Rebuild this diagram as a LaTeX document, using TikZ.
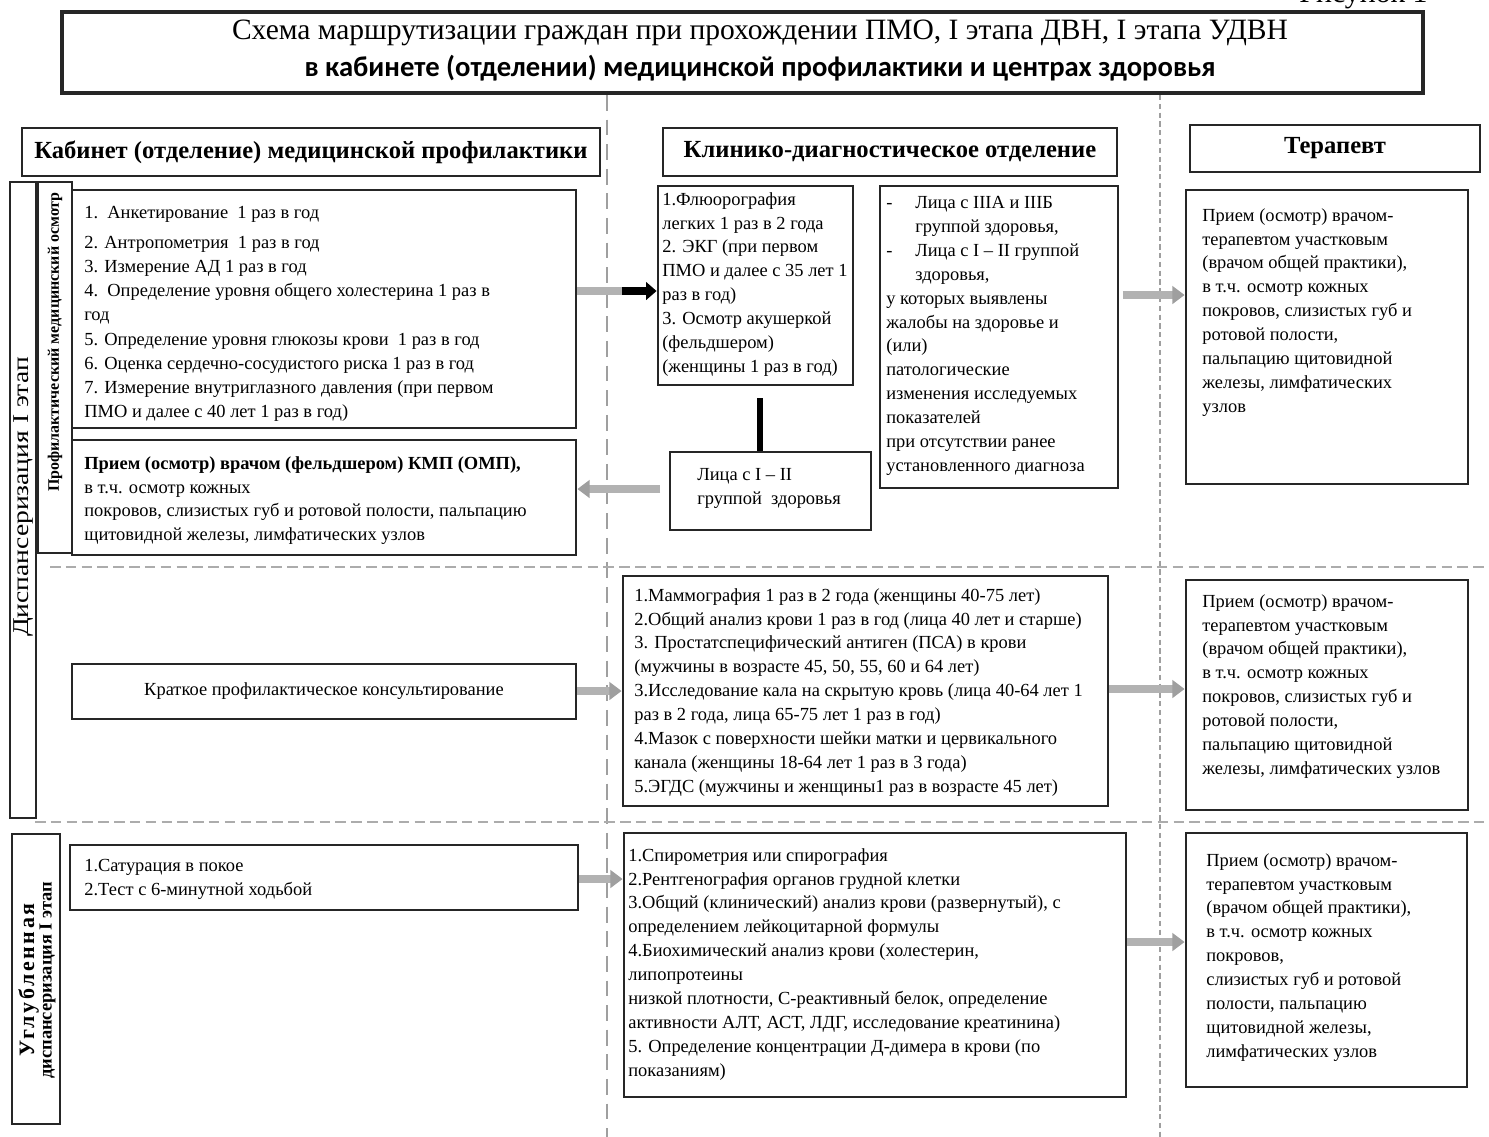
\documentclass[tikz,border=0pt]{standalone}
\usepackage{fontspec}
\setmainfont{Liberation Serif}
\newfontfamily\titlesans{Carlito}
\usetikzlibrary{arrows.meta,fit}
\begin{document}
\begin{tikzpicture}[x=0.02cm,y=-0.02cm,
  box/.style={draw=black!85,line width=1.6pt,inner sep=0pt},
  txt/.style={anchor=north west,inner sep=0pt,align=left,font=\fontsize{10.5}{13.6}\selectfont},
  hdr/.style={inner sep=0pt,font=\bfseries\fontsize{14}{16}\selectfont},
  garrow/.style={draw=gray!60,line width=4.2pt,-{Triangle[length=7pt,width=10pt,color=gray!75]}},
  barrow/.style={draw=black,line width=4.2pt,-{Triangle[length=6pt,width=10pt]}},
  vdash/.style={draw=gray!75,line width=1.1pt,dash pattern=on 9pt off 5pt},
  vdash2/.style={draw=gray!75,line width=1.6pt,dash pattern=on 3pt off 2pt},
  hdash/.style={draw=gray!65,line width=1.6pt,dash pattern=on 6pt off 3pt}]
\useasboundingbox (0,0) rectangle (1489,1137);
\fill[white] (0,0) rectangle (1489,1137);

% figure label (cut at the top edge, as in the reference)
\node[font=\fontsize{17}{19}\selectfont,anchor=south east,inner sep=0pt] (fig) at (1428,9) {Рисунок 1};

% title
\node[box,line width=2.4pt,fit={(62,12)(1423,93)}] (title) {};
\node[inner sep=0pt,font=\fontsize{16.8}{20}\selectfont] (t1) at (760,33) {Схема маршрутизации граждан при прохождении ПМО, I этапа ДВН, I этапа УДВН};
\node[inner sep=0pt,font=\titlesans\bfseries\fontsize{16.3}{19}\selectfont] (t2) at (760,68) {в кабинете (отделении) медицинской профилактики и центрах здоровья};

% separators
\coordinate (va) at (607,95);
\coordinate (vb) at (607,1137);
\coordinate (vc) at (1160,95);
\coordinate (vd) at (1160,1137);
\draw[vdash] (va) -- (vb);
\draw[vdash2] (vc) -- (vd);
\coordinate (ha) at (50,567);
\coordinate (hb) at (1489,567);
\coordinate (hc) at (35,822);
\coordinate (hd) at (1489,822);
\draw[hdash] (ha) -- (hb);
\draw[hdash] (hc) -- (hd);

% headers
\node[box,fit={(22,128)(600,176)}] (h1) {};
\node[hdr] (h1t) at (h1.center) {Кабинет (отделение) медицинской профилактики};
\node[box,fit={(663,128)(1117,176)}] (h2) {};
\node[hdr] (h2t) at (h2.center) {Клинико-диагностическое отделение};
\node[box,fit={(1190,125)(1480,172)}] (h3) {};
\node[hdr] (h3t) at (h3.center) {Терапевт};

% left vertical labels
\node[box,fill=white,fit={(10,182)(36,818)}] (vdisp) {};
\node[inner sep=0pt,rotate=90,font=\fontsize{14}{16}\selectfont] (vdispt) at (24,497) {\scalebox{1.12}[0.92]{Диспансеризация I этап}};
\node[box,fill=white,fit={(38,182)(72,553)}] (vpmo) {};
\node[inner sep=0pt,rotate=90,font=\bfseries\fontsize{9.1}{12}\selectfont] (vpmot) at (55,342) {Профилактический медицинский осмотр};
\node[box,fill=white,fit={(12,834)(60,1124)}] (vudvn) {};
\node[inner sep=0pt,rotate=90,align=center,font=\bfseries\fontsize{10.5}{11}\selectfont] (vudvnt) at (37,980) {{\fontsize{12.5}{12}\selectfont\addfontfeature{LetterSpace=12}Углубленная}\\[-1pt]диспансеризация I этап};

% row 1
\node[box,fit={(72,190)(576,428)}] (b1) {};
\node[txt,font=\fontsize{10.5}{13.8}\selectfont] (b1t) at (84,206) {1.\ \ Анкетирование\ \ 1 раз в год\\[3pt]2. Антропометрия\ \ 1 раз в год\\3. Измерение АД 1 раз в год\\4.\ \ Определение уровня общего холестерина 1 раз в\\год\\5. Определение уровня глюкозы крови\ \ 1 раз в год\\6. Оценка сердечно-сосудистого риска 1 раз в год\\7. Измерение внутриглазного давления (при первом\\ПМО и далее с 40 лет 1 раз в год)};

\node[box,fit={(72,440)(576,555)}] (b2) {};
\node[txt] (b2t) at (84,456) {\textbf{Прием (осмотр) врачом (фельдшером) КМП (ОМП),}\\в т.ч. осмотр кожных\\покровов, слизистых губ и ротовой полости, пальпацию\\щитовидной железы, лимфатических узлов};

\node[box,fit={(658,186)(853,385)}] (b3) {};
\node[txt] (b3t) at (662,192) {1.Флюорография\\легких 1 раз в 2 года\\2. ЭКГ (при первом\\ПМО и далее с 35 лет 1\\раз в год)\\3. Осмотр акушеркой\\(фельдшером)\\(женщины 1 раз в год)};

\node[box,fit={(880,186)(1118,488)}] (b4) {};
\node[txt] (b4t) at (886,196) {\makebox[16.5pt][l]{-}Лица с IIIА и IIIБ\\\hspace*{16.5pt}группой здоровья,\\\makebox[16.5pt][l]{-}Лица с I -- II группой\\\hspace*{16.5pt}здоровья,\\у которых выявлены\\жалобы на здоровье и\\(или)\\патологические\\изменения исследуемых\\показателей\\при отсутствии ранее\\установленного диагноза};

\node[box,fit={(670,452)(871,530)}] (b5) {};
\node[txt] (b5t) at (697,468) {Лица с I -- II\\группой\ \ здоровья};

\node[box,fit={(1186,190)(1468,484)}] (r1) {};
\node[txt] (r1t) at (1202,208) {Прием (осмотр) врачом-\\терапевтом участковым\\(врачом общей практики),\\в т.ч. осмотр кожных\\покровов, слизистых губ и\\ротовой полости,\\пальпацию щитовидной\\железы, лимфатических\\узлов};

% row 2
\node[box,fit={(72,664)(576,719)}] (c1) {};
\node[inner sep=0pt,font=\fontsize{10.5}{13.6}\selectfont] (c1t) at (c1.center) {Краткое профилактическое консультирование};

\node[box,fit={(623,576)(1108,806)}] (b6) {};
\node[txt] (b6t) at (634,588) {1.Маммография 1 раз в 2 года (женщины 40-75 лет)\\2.Общий анализ крови 1 раз в год (лица 40 лет и старше)\\3. Простатспецифический антиген (ПСА) в крови\\(мужчины в возрасте 45, 50, 55, 60 и 64 лет)\\3.Исследование кала на скрытую кровь (лица 40-64 лет 1\\раз в 2 года, лица 65-75 лет 1 раз в год)\\4.Мазок с поверхности шейки матки и цервикального\\канала (женщины 18-64 лет 1 раз в 3 года)\\5.ЭГДС (мужчины и женщины1 раз в возрасте 45 лет)};

\node[box,fit={(1186,580)(1468,810)}] (r2) {};
\node[txt] (r2t) at (1202,594) {Прием (осмотр) врачом-\\терапевтом участковым\\(врачом общей практики),\\в т.ч. осмотр кожных\\покровов, слизистых губ и\\ротовой полости,\\пальпацию щитовидной\\железы, лимфатических узлов};

% row 3
\node[box,fit={(70,845)(578,910)}] (s1) {};
\node[txt] (s1t) at (84,859) {1.Сатурация в покое\\2.Тест с 6-минутной ходьбой};

\node[box,fit={(624,833)(1126,1097)}] (b7) {};
\node[txt] (b7t) at (628,848) {1.Спирометрия или спирография\\2.Рентгенография органов грудной клетки\\3.Общий (клинический) анализ крови (развернутый), с\\определением лейкоцитарной формулы\\4.Биохимический анализ крови (холестерин,\\липопротеины\\низкой плотности, С-реактивный белок, определение\\активности АЛТ, АСТ, ЛДГ, исследование креатинина)\\5. Определение концентрации Д-димера в крови (по\\показаниям)};

\node[box,fit={(1186,833)(1467,1087)}] (r3) {};
\node[txt] (r3t) at (1206,853) {Прием (осмотр) врачом-\\терапевтом участковым\\(врачом общей практики),\\в т.ч. осмотр кожных\\покровов,\\слизистых губ и ротовой\\полости, пальпацию\\щитовидной железы,\\лимфатических узлов};

% connectors
\coordinate (y1) at (0,291);
\coordinate (m1) at (622,291);
\draw[draw=gray!60,line width=4.2pt] (b1.east |- y1) -- (m1);
\draw[barrow] (m1) -- (b3.west |- y1);

\coordinate (v1) at (760,398);
\draw[line width=3pt] (v1) -- (v1 |- b5.north);

\coordinate (y2) at (660,489);
\draw[garrow] (y2) -- (b2.east |- y2);

\coordinate (y3) at (0,295);
\draw[garrow] ([xshift=2pt]b4.east |- y3) -- (r1.west |- y3);

\coordinate (y4) at (0,691);
\draw[garrow] (c1.east |- y4) -- (b6.west |- y4);
\coordinate (y5) at (0,689);
\draw[garrow] (b6.east |- y5) -- (r2.west |- y5);

\coordinate (y6) at (0,879);
\draw[garrow] (s1.east |- y6) -- (b7.west |- y6);
\coordinate (y7) at (0,942);
\draw[garrow] (b7.east |- y7) -- (r3.west |- y7);
\end{tikzpicture}
\end{document}
